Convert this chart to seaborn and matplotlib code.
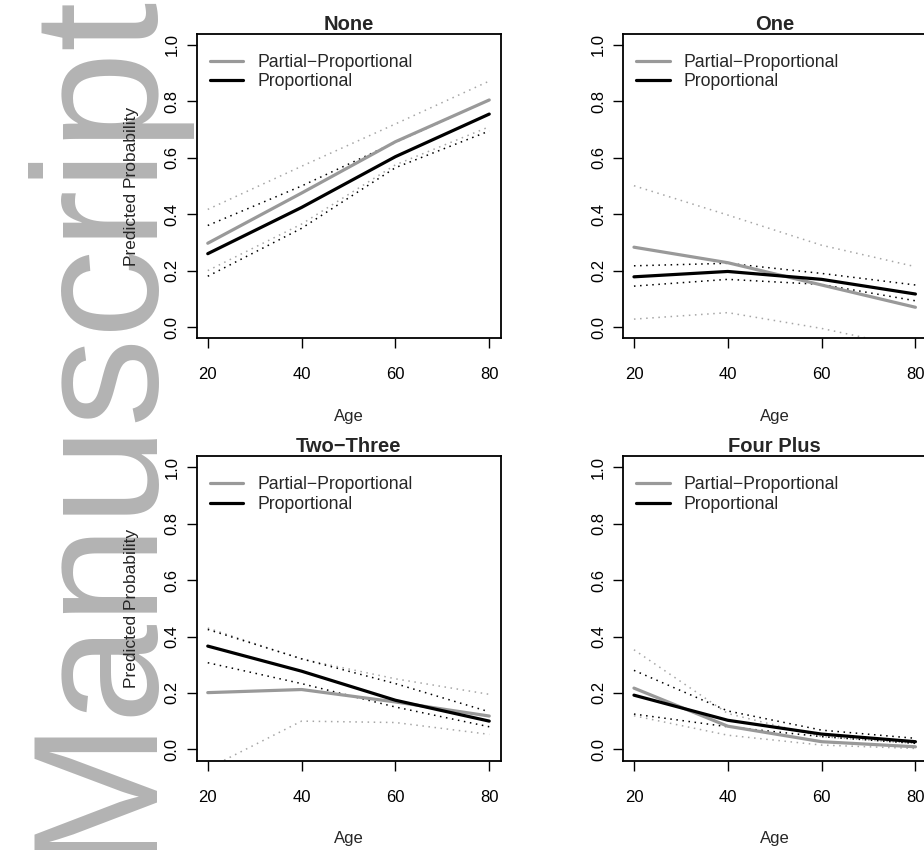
import numpy as np
import pandas as pd
import matplotlib
matplotlib.use("Agg")
import matplotlib.pyplot as plt
from matplotlib import font_manager
import seaborn as sns

sns.set_style("white")
plt.rcParams['font.family'] = ['Liberation Sans', 'DejaVu Sans']

age = [20, 40, 60, 80]
panel_titles = ["None", "One", "Two\u2212Three", "Four Plus"]
legend_labels = ["Partial\u2212Proportional", "Proportional"]
yticks = [0.0, 0.2, 0.4, 0.6, 0.8, 1.0]
yticklabels = ["0.0", "0.2", "0.4", "0.6", "0.8", "1.0"]
xticks = [20, 40, 60, 80]

none_pp = [0.297, 0.475, 0.657, 0.805]
none_pp_lo = [0.20, 0.365, 0.575, 0.71]
none_pp_hi = [0.417, 0.57, 0.72, 0.872]
none_p = [0.26, 0.424, 0.604, 0.755]
none_p_lo = [0.18, 0.35, 0.565, 0.695]
none_p_hi = [0.36, 0.50, 0.655, 0.805]

one_pp = [0.283, 0.228, 0.149, 0.07]
one_pp_lo = [0.028, 0.051, -0.005, -0.076]
one_pp_hi = [0.501, 0.397, 0.29, 0.214]
one_p = [0.178, 0.197, 0.169, 0.117]
one_p_lo = [0.145, 0.169, 0.151, 0.093]
one_p_hi = [0.217, 0.226, 0.19, 0.149]

two_pp = [0.201, 0.212, 0.168, 0.118]
two_pp_lo = [-0.068, 0.10, 0.095, 0.053]
two_pp_hi = [0.43, 0.32, 0.25, 0.195]
two_p = [0.366, 0.277, 0.174, 0.10]
two_p_lo = [0.307, 0.233, 0.15, 0.08]
two_p_hi = [0.425, 0.321, 0.233, 0.133]

four_pp = [0.217, 0.082, 0.027, 0.009]
four_pp_lo = [0.119, 0.05, 0.015, 0.003]
four_pp_hi = [0.353, 0.127, 0.045, 0.021]
four_p = [0.192, 0.103, 0.054, 0.027]
four_p_lo = [0.125, 0.08, 0.045, 0.021]
four_p_hi = [0.28, 0.136, 0.068, 0.039]

panel_data = [
    (none_pp, none_pp_lo, none_pp_hi, none_p, none_p_lo, none_p_hi),
    (one_pp, one_pp_lo, one_pp_hi, one_p, one_p_lo, one_p_hi),
    (two_pp, two_pp_lo, two_pp_hi, two_p, two_p_lo, two_p_hi),
    (four_pp, four_pp_lo, four_pp_hi, four_p, four_p_lo, four_p_hi),
]

W, H = 924, 850
fig = plt.figure(figsize=(W / 100, H / 100), dpi=100)

# watermark
installed = {f.name for f in font_manager.fontManager.ttflist}
if 'Liberation Sans Narrow' in installed:
    wm_family, wm_size = ['Liberation Sans Narrow', 'Liberation Sans'], 153
else:
    wm_family, wm_size = ['Liberation Sans', 'DejaVu Sans'], 128
fig.text(143 / W, -6 / H, "Manuscript", rotation=90, rotation_mode='anchor',
         ha='left', va='baseline', fontsize=wm_size, color='#b3b3b3',
         family=wm_family, zorder=-1)

lefts = [196.5, 622.7, 196.5, 622.7]
bottoms_px = [338.3, 338.3, 760.6, 760.6]
aw, ah = 304.0, 304.6

GRAY = '#999999'
GRAY_DOT = '#a6a6a6'

for i, (title, data) in enumerate(zip(panel_titles, panel_data)):
    pp, pp_lo, pp_hi, p, p_lo, p_hi = data
    ax = fig.add_axes([lefts[i] / W, 1 - bottoms_px[i] / H, aw / W, ah / H])
    dot = (0, (1, 3))
    for arr in (pp_lo, pp_hi):
        sns.lineplot(x=age, y=arr, ax=ax, color=GRAY_DOT, linewidth=1.1,
                     linestyle=dot, estimator=None)
    for arr in (p_lo, p_hi):
        sns.lineplot(x=age, y=arr, ax=ax, color='black', linewidth=1.1,
                     linestyle=dot, estimator=None)
    sns.lineplot(x=age, y=pp, ax=ax, color=GRAY, linewidth=2.3,
                 estimator=None, label=legend_labels[0])
    sns.lineplot(x=age, y=p, ax=ax, color='black', linewidth=2.3,
                 estimator=None, label=legend_labels[1])

    ax.set_xlim(17.6, 82.4)
    ax.set_ylim(-0.04, 1.04)
    ax.set_xticks(xticks)
    ax.set_xticklabels([str(v) for v in xticks])
    ax.set_yticks(yticks)
    ax.set_yticklabels(yticklabels, rotation=90, va='center')
    ax.tick_params(axis='both', which='major', direction='out', length=7,
                   width=1.0, color='black', labelsize=12, labelcolor='black',
                   left=True, bottom=True)
    ax.tick_params(axis='x', pad=14)
    ax.tick_params(axis='y', pad=5)
    for s in ax.spines.values():
        s.set_visible(True)
        s.set_color('black')
        s.set_linewidth(1.3)

    ax.set_title(title, fontsize=14.5, fontweight='bold', pad=3)
    ax.set_xlabel("Age", fontsize=12)
    ax.xaxis.set_label_coords(0.5, -0.232)
    if i % 2 == 0:
        ax.set_ylabel("Predicted Probability", fontsize=12.5)
        ax.yaxis.label.set_va('center')
        ax.yaxis.set_label_coords(-0.215, 0.5)
    else:
        ax.set_ylabel("")

    leg = ax.legend(loc='upper left', bbox_to_anchor=(0.044, 0.934),
                    frameon=False, fontsize=12.7, handlelength=1.9,
                    handletextpad=0.78, labelspacing=0.15,
                    borderaxespad=0, borderpad=0)

fig.savefig("out.png", dpi=100)
